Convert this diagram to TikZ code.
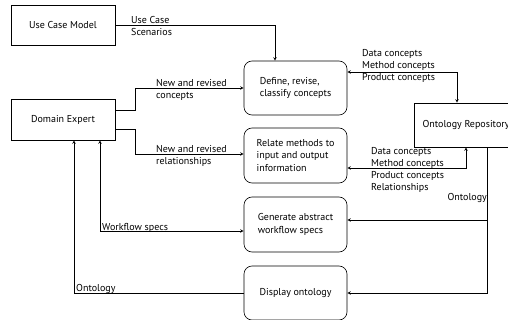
\documentclass[tikz,border=0pt]{standalone}
\usepackage{fontspec}
\setmainfont{PT Sans}
\usepackage{tikz}
\usetikzlibrary{shapes.geometric, arrows}
\usetikzlibrary{calc,positioning}

\begin{document}
\begin{tikzpicture}[x=1pt,y=1pt,yscale=-1,xscale=1]
  \useasboundingbox (0,0) rectangle (508,320);
  \tikzstyle{arrow} = [line width=0.6pt,->,>=stealth]
  \tikzstyle{twoway} = [line width=0.6pt,<->,>=stealth]
  \tikzstyle{ent} = [draw,line width=0.6pt,rectangle,minimum width=104,minimum height=40,inner sep=2pt]
  \tikzstyle{proc} = [draw,line width=0.6pt,rectangle,rounded corners=8pt,minimum width=103,minimum height=54,align=left,inner sep=2pt]
  \tikzstyle{lbl} = [inner sep=0pt,align=left,font=\fontsize{10}{12}\selectfont]
  \fontsize{10}{12.5}\selectfont
  %Draw the outside entities
  \node[ent] (ucm) at (63,25) {Use Case Model};
  \node[ent,minimum height=41] (expert) at (63,119.5) {Domain Expert};
  \node[ent,minimum height=44] (repo) at (466,125) {Ontology Repository};
  %Draw the processes
  \node[proc] (define) at (295.5,88) {Define, revise,\\classify concepts};
  \node[proc,minimum height=55] (relate) at (295.5,155.5) {Relate methods to\\input and output\\information};
  \node[proc,minimum height=55] (generate) at (295.5,224.5) {Generate abstract\\workflow specs};
  \node[proc] (display) at (295.5,293) {Display ontology};

  % Flows into the processes (yshift runs downwards here, yscale=-1)
  \draw [arrow] (ucm.east) -| ([xshift=-20.5pt]define.north);
  \draw [arrow] ([yshift=-9.5pt]expert.east) -- ++(20,0) |- (define.west);
  \draw [arrow] ([yshift=9.5pt]expert.east) -- ++(20,0) |- ([yshift=-1.5pt]relate.west);
  \draw [twoway] ([xshift=37pt]expert.south) |- ([yshift=6.5pt]generate.west);
  \draw [arrow] (display.west) -| ([xshift=11pt]expert.south);
  % Flows to and from the repository
  \draw [twoway] ([yshift=-16pt]define.east) -| ([xshift=-9pt]repo.north);
  \draw [twoway] ([yshift=12.5pt]relate.east) -| (repo.south);
  \coordinate (ontoTop) at ([xshift=21pt]repo.south);
  \coordinate (genIn) at ([yshift=-4.5pt]generate.east);
  \draw [arrow] (ontoTop) |- (display.east);
  \draw [arrow] (ontoTop |- genIn) -- (genIn);

  % Label the flows
  \node[lbl,anchor=west] (lucs) at (131,26.5) {Use Case\\Scenarios};
  \node[lbl,anchor=west] (lnew) at (156,89.5) {New and revised\\concepts};
  \node[lbl,anchor=west] (lrel) at (156,156) {New and revised\\relationships};
  \node[lbl,anchor=west] (ldef) at (362,66) {Data concepts\\Method concepts\\Product concepts};
  \node[lbl,anchor=west] (lrep) at (371,169.5) {Data concepts\\Method concepts\\Product concepts\\Relationships};
  \node[lbl,anchor=base east] (lont) at (487,201) {Ontology};
  \node[lbl,anchor=base west] (lwf) at (102,230) {Workflow specs};
  \node[lbl,anchor=base west] (ldis) at (76,291) {Ontology};
\end{tikzpicture}
\end{document}
